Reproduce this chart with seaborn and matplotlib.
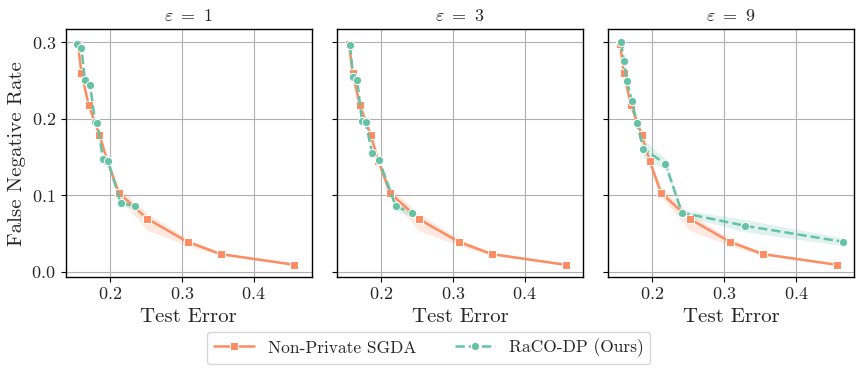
import numpy as np
import pandas as pd
import matplotlib
matplotlib.use("Agg")
import matplotlib.pyplot as plt
import seaborn as sns

# Non-private SGDA (same for every epsilon)
sgda_err = [0.155, 0.160, 0.170, 0.185, 0.196, 0.212, 0.252, 0.308, 0.354, 0.457]
sgda_fnr = [0.298, 0.260, 0.218, 0.179, 0.145, 0.103, 0.069, 0.039, 0.023, 0.009]
sgda_lo = [0.295, 0.255, 0.212, 0.174, 0.141, 0.098, 0.054, 0.034, 0.021, 0.008]
sgda_hi = [0.300, 0.264, 0.222, 0.184, 0.149, 0.110, 0.076, 0.043, 0.025, 0.010]

# RaCO-DP per epsilon
eps_list = [1, 3, 9]
raco_err = {
    1: [0.1535, 0.160, 0.1647, 0.172, 0.179, 0.1823, 0.190, 0.197, 0.2149, 0.234],
    3: [0.1563, 0.161, 0.1665, 0.173, 0.178, 0.1874, 0.1967, 0.220, 0.2433],
    9: [0.156, 0.1606, 0.1644, 0.1713, 0.1782, 0.1875, 0.218, 0.2412, 0.329, 0.466],
}
raco_fnr = {
    1: [0.298, 0.293, 0.251, 0.2444, 0.196, 0.194, 0.1467, 0.1445, 0.0897, 0.0858],
    3: [0.296, 0.254, 0.250, 0.1975, 0.1958, 0.1546, 0.1463, 0.0858, 0.0762],
    9: [0.300, 0.275, 0.2496, 0.2238, 0.1949, 0.1607, 0.141, 0.077, 0.060, 0.039],
}
raco_band = {
    1: [0.002, 0.002, 0.003, 0.003, 0.003, 0.003, 0.003, 0.003, 0.004, 0.004],
    3: [0.002, 0.003, 0.003, 0.003, 0.003, 0.003, 0.003, 0.006, 0.004],
    9: [0.002, 0.003, 0.003, 0.003, 0.003, 0.012, 0.007, 0.004, 0.008, 0.005],
}

sns.set_style("ticks", {"axes.grid": True, "grid.color": "#b0b0b0",
                        "axes.edgecolor": "black"})
plt.rcParams["font.family"] = ["cmr10", "DejaVu Serif"]
plt.rcParams["mathtext.fontset"] = "cm"
plt.rcParams["axes.formatter.use_mathtext"] = True
plt.rcParams["axes.unicode_minus"] = False

pal = sns.color_palette("Set2")
c_sgda, c_raco = pal[1], pal[0]

fig, axes = plt.subplots(1, 3, figsize=(8.63, 3.73), dpi=100, sharex=True, sharey=True)
plt.subplots_adjust(left=0.076, right=0.99, top=0.921, bottom=0.258, wspace=0.1)

for ax, eps in zip(axes, eps_list):
    sgda = pd.DataFrame({"err": sgda_err, "fnr": sgda_fnr})
    raco = pd.DataFrame({"err": raco_err[eps], "fnr": raco_fnr[eps]})
    ax.fill_between(sgda_err, sgda_lo, sgda_hi, color=c_sgda, alpha=0.2, lw=0)
    rf = np.array(raco_fnr[eps])
    rb = np.array(raco_band[eps])
    ax.fill_between(raco_err[eps], rf - rb, rf + rb, color=c_raco, alpha=0.2, lw=0)
    sns.lineplot(data=sgda, x="err", y="fnr", ax=ax, color=c_sgda, marker="s",
                 markersize=6, lw=1.8, sort=False, label="Non-Private SGDA")
    sns.lineplot(data=raco, x="err", y="fnr", ax=ax, color=c_raco, marker="o",
                 markersize=6, lw=1.8, ls="--", sort=False, label="RaCO-DP (Ours)")
    ax.set_title(r"$\varepsilon\ =\ %d$" % eps, fontsize=13)
    ax.set_xlabel("Test Error", fontsize=15)
    ax.set_ylabel("")
    ax.get_legend().remove()
    ax.set_xticks([0.2, 0.3, 0.4])
    ax.set_yticks([0.0, 0.1, 0.2, 0.3])
    ax.tick_params(labelsize=13, length=3.5, color="black")
    for s in ax.spines.values():
        s.set_color("black")
        s.set_linewidth(1.0)

axes[0].set_ylabel("False Negative Rate", fontsize=15)
handles, labels = axes[0].get_legend_handles_labels()
fig.legend(handles, labels, loc="lower center", ncol=2, fontsize=12.5,
           bbox_to_anchor=(0.497, 0.0), columnspacing=2.2, handlelength=2.3,
           frameon=True, fancybox=True)

plt.savefig("out.png", dpi=100)
